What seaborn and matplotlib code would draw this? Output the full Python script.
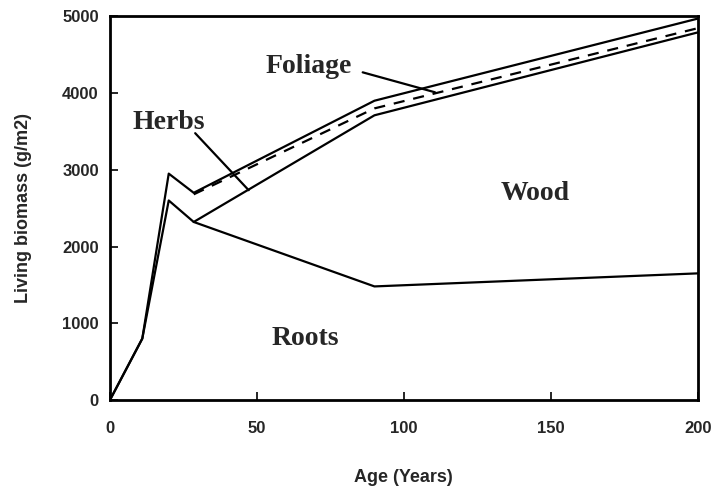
import matplotlib
matplotlib.use("Agg")
import matplotlib.pyplot as plt
import seaborn as sns
import numpy as np
import pandas as pd

# ---- data ----
age = [0, 11, 20, 28.5, 90, 200]
roots = [0, 800, 2600, 2320, 1480, 1650]
wood = [0, 0, 0, 0, 2230, 3140]
herbs = [0, 0, 300, 360, 90, 55]
foliage = [0, 0, 50, 20, 100, 125]
wood_start = 3  # wood / herbs boundaries drawn from this age index on

x_ticks = [0, 50, 100, 150, 200]
y_ticks = [0, 1000, 2000, 3000, 4000, 5000]

sns.set_style("ticks")
plt.rcParams['font.family'] = ['Liberation Sans', 'DejaVu Sans']

roots_top = np.array(roots, dtype=float)
wood_top = roots_top + np.array(wood)
herbs_top = wood_top + np.array(herbs)
foliage_top = herbs_top + np.array(foliage)

df = pd.DataFrame({"age": age, "roots": roots_top, "wood": wood_top,
                   "herbs": herbs_top, "foliage": foliage_top})
df_late = df.iloc[wood_start:]

fig = plt.figure(figsize=(7.15, 4.9), dpi=100)
ax = fig.add_axes([0.1538, 0.1837, 0.8220, 0.783])

lw = 1.6
sns.lineplot(data=df, x="age", y="roots", color="black", lw=lw, ax=ax)
sns.lineplot(data=df, x="age", y="foliage", color="black", lw=lw, ax=ax)
sns.lineplot(data=df_late, x="age", y="wood", color="black", lw=lw, ax=ax)
sns.lineplot(data=df_late, x="age", y="herbs", color="black", lw=lw,
             ax=ax, linestyle=(0, (5, 4)))

ax.set_xlim(0, 200)
ax.set_ylim(0, 5000)
ax.set_xticks(x_ticks)
ax.set_yticks(y_ticks)
ax.tick_params(direction="in", length=6, width=1.2, labelsize=12,
               color="black")
ax.tick_params(axis="x", pad=15)
ax.tick_params(axis="y", pad=8)
for lab in ax.get_xticklabels() + ax.get_yticklabels():
    lab.set_fontweight("bold")
for sp in ax.spines.values():
    sp.set_visible(True)
    sp.set_linewidth(2)
    sp.set_color("black")

ax.set_xlabel("Age (Years)", fontsize=13, fontweight="bold", labelpad=24)
ax.set_ylabel("Living biomass (g/m2)", fontsize=13, fontweight="bold",
              labelpad=22)

serif = dict(family=["Liberation Serif", "DejaVu Serif"], fontsize=20,
             fontweight="bold")
ptr = dict(arrowstyle="-", color="black", lw=1.6, shrinkA=0, shrinkB=0)
ax.text(67.5, 4350, "Foliage", ha="center", va="center", **serif)
ax.annotate("", xy=(110.6, 4010), xytext=(86.0, 4270), arrowprops=ptr)
ax.text(20.0, 3620, "Herbs", ha="center", va="center", **serif)
ax.annotate("", xy=(47.2, 2734), xytext=(29.0, 3477), arrowprops=ptr)
ax.text(144.7, 2690, "Wood", ha="center", va="center", **serif)
ax.text(66.4, 800, "Roots", ha="center", va="center", **serif)

fig.savefig("out.png", dpi=100)
